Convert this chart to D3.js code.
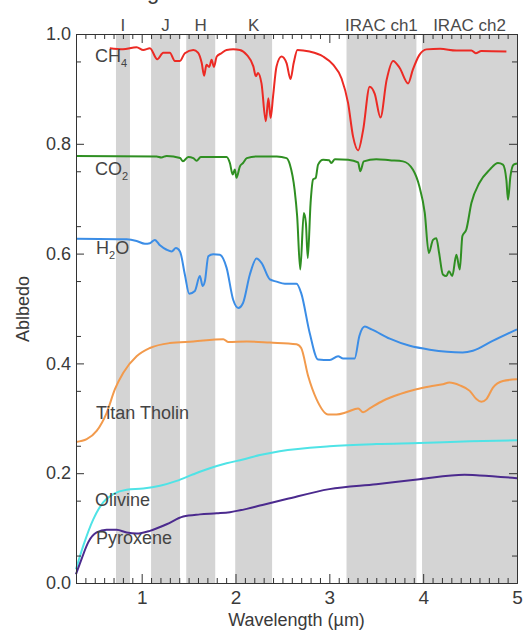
<!DOCTYPE html>
<html lang="en">
<head>
<meta charset="UTF-8">
<title>Albedo spectra</title>
<script src="https://d3js.org/d3.v7.min.js"></script>
<style>
  body { margin: 0; background: #fff; }
  text { font-family: "Liberation Sans", Arial, sans-serif; fill: #3a3a3a; }
  .axis path, .axis line { stroke: #333; }
  .curve { fill: none; stroke-width: 2; stroke-linejoin: round; }
</style>
</head>
<body>
<script>
// photometric bands (wavelength, um)
const bandNames = ['I', 'J', 'H', 'K', 'IRAC ch1', 'IRAC ch2'];
const bandFrom  = [0.726, 1.10, 1.475, 1.997, 3.183, 3.988];
const bandTo    = [0.875, 1.408, 1.784, 2.39, 3.928, 5.0];

const xTicks = [1, 2, 3, 4, 5];
const yTicks = [0.0, 0.2, 0.4, 0.6, 0.8, 1.0];

// spectra: [wavelength, albedo]
const ch4 = [[0.66,0.974],[0.80,0.972],[0.946,0.976],[1.017,0.971],[1.088,0.974],[1.166,0.954],[1.23,0.966],
  [1.30,0.966],[1.354,0.951],[1.408,0.951],[1.46,0.965],[1.55,0.971],[1.60,0.966],[1.64,0.947],[1.666,0.924],
  [1.69,0.944],[1.72,0.94],[1.745,0.953],[1.77,0.94],[1.80,0.959],[1.85,0.965],[1.905,0.971],[1.975,0.972],
  [2.046,0.971],[2.12,0.962],[2.19,0.941],[2.217,0.923],[2.24,0.929],[2.277,0.91],[2.323,0.841],[2.35,0.883],
  [2.374,0.847],[2.40,0.886],[2.437,0.941],[2.49,0.959],[2.544,0.947],[2.586,0.918],[2.62,0.947],[2.66,0.971],
  [2.79,0.968],[2.934,0.959],[3.04,0.944],[3.13,0.919],[3.20,0.874],[3.253,0.813],[3.307,0.788],[3.36,0.825],
  [3.43,0.904],[3.484,0.891],[3.545,0.848],[3.61,0.916],[3.68,0.951],[3.75,0.938],[3.84,0.910],[3.89,0.935],
  [3.96,0.962],[4.035,0.972],[4.18,0.973],[4.354,0.97],[4.514,0.97],[4.56,0.965],[4.62,0.969],[4.887,0.968]];

const co2 = [[0.3,0.778],[1.16,0.777],[1.21,0.775],[1.266,0.778],[1.41,0.774],[1.44,0.768],[1.496,0.776],
  [1.55,0.774],[1.585,0.769],[1.63,0.776],[1.905,0.776],[1.94,0.765],[1.97,0.744],[1.993,0.753],[2.01,0.738],
  [2.047,0.759],[2.08,0.765],[2.12,0.774],[2.224,0.777],[2.44,0.777],[2.544,0.774],[2.58,0.762],[2.63,0.716],
  [2.657,0.668],[2.69,0.571],[2.728,0.674],[2.75,0.656],[2.77,0.592],[2.80,0.692],[2.827,0.735],[2.855,0.738],
  [2.88,0.762],[2.934,0.771],[2.997,0.770],[3.02,0.765],[3.06,0.772],[3.2,0.771],[3.306,0.766],[3.33,0.750],
  [3.367,0.768],[3.50,0.772],[3.644,0.770],[3.785,0.768],[3.89,0.753],[3.96,0.722],[4.017,0.674],[4.06,0.601],
  [4.105,0.625],[4.14,0.628],[4.17,0.601],[4.21,0.562],[4.247,0.559],[4.275,0.568],[4.31,0.559],[4.354,0.598],
  [4.39,0.571],[4.418,0.632],[4.46,0.644],[4.514,0.692],[4.60,0.729],[4.71,0.753],[4.797,0.765],[4.85,0.762],
  [4.887,0.734],[4.904,0.698],[4.93,0.741],[4.964,0.762],[5.0,0.764]];

const h2o = [[0.3,0.627],[0.84,0.626],[0.946,0.623],[1.035,0.618],[1.088,0.619],[1.14,0.625],[1.195,0.615],
  [1.266,0.607],[1.32,0.604],[1.365,0.610],[1.408,0.604],[1.46,0.562],[1.507,0.527],[1.567,0.532],[1.62,0.559],
  [1.65,0.541],[1.674,0.550],[1.71,0.595],[1.762,0.599],[1.833,0.598],[1.905,0.574],[1.975,0.516],[2.03,0.501],
  [2.08,0.510],[2.153,0.562],[2.224,0.591],[2.277,0.583],[2.366,0.553],[2.437,0.549],[2.526,0.545],[2.65,0.545],
  [2.70,0.528],[2.79,0.456],[2.88,0.407],[3.005,0.406],[3.093,0.413],[3.147,0.409],[3.27,0.409],[3.32,0.450],
  [3.378,0.467],[3.45,0.462],[3.644,0.445],[3.857,0.432],[4.07,0.425],[4.42,0.420],[4.53,0.423],[4.74,0.441],
  [5.0,0.462]];

const tholin = [[0.3,0.257],[0.414,0.262],[0.52,0.277],[0.627,0.310],[0.715,0.353],[0.804,0.383],[0.946,0.413],
  [1.088,0.428],[1.30,0.437],[1.55,0.440],[1.87,0.444],[1.92,0.439],[2.12,0.440],[2.366,0.438],[2.65,0.435],
  [2.70,0.428],[2.774,0.377],[2.863,0.335],[2.987,0.307],[3.076,0.307],[3.183,0.311],[3.307,0.318],[3.36,0.311],
  [3.43,0.318],[3.572,0.332],[3.75,0.344],[3.928,0.353],[4.07,0.358],[4.21,0.362],[4.28,0.365],[4.39,0.360],
  [4.496,0.350],[4.567,0.335],[4.62,0.330],[4.674,0.335],[4.744,0.356],[4.85,0.368],[5.0,0.371]];

const olivine = [[0.3,0.025],[0.378,0.068],[0.484,0.116],[0.59,0.147],[0.697,0.162],[0.84,0.170],[1.017,0.172],
  [1.195,0.177],[1.372,0.186],[1.55,0.198],[1.727,0.209],[1.905,0.218],[2.08,0.225],[2.26,0.233],[2.47,0.240],
  [3.0,0.249],[3.5,0.253],[3.96,0.255],[4.5,0.258],[5.0,0.260]];

const pyroxene = [[0.3,0.016],[0.36,0.044],[0.43,0.074],[0.52,0.092],[0.627,0.097],[0.733,0.097],[0.84,0.092],
  [0.946,0.090],[1.088,0.095],[1.266,0.107],[1.443,0.121],[1.62,0.125],[1.80,0.127],[1.94,0.129],[2.12,0.135],
  [2.26,0.141],[2.544,0.153],[3.0,0.171],[3.5,0.180],[3.96,0.189],[4.44,0.197],[4.6,0.196],[5.0,0.191]];

const series = [
  { data: ch4, color: '#ec2a24' },
  { data: co2, color: '#2f8f22' },
  { data: h2o, color: '#3b8de6' },
  { data: tholin, color: '#f29a4c' },
  { data: olivine, color: '#4fe3e6' },
  { data: pyroxene, color: '#4b2a8e' }
];

const width = 523, height = 630;
const plotLeft = 76, plotRight = 517, plotTop = 34, plotBottom = 583;

const svg = d3.select('body').append('svg')
  .attr('width', width)
  .attr('height', height);

const x = d3.scaleLinear().domain([0.3, 5]).range([plotLeft, plotRight]);
const y = d3.scaleLinear().domain([0, 1]).range([plotBottom, plotTop]);

// bands
svg.selectAll('.band')
  .data(bandNames)
  .enter().append('rect')
  .attr('x', (d, i) => x(bandFrom[i]))
  .attr('width', (d, i) => x(bandTo[i]) - x(bandFrom[i]))
  .attr('y', plotTop)
  .attr('height', plotBottom - plotTop)
  .attr('fill', '#d4d4d4');

svg.selectAll('.bandLabel')
  .data(bandNames)
  .enter().append('text')
  .attr('x', (d, i) => x((bandFrom[i] + bandTo[i]) / 2))
  .attr('y', 31)
  .attr('text-anchor', 'middle')
  .style('font-size', '17px')
  .style('fill', '#4a4a4a')
  .text(d => d);

// curves
const line = d3.line()
  .x(d => x(d[0]))
  .y(d => y(d[1]))
  .curve(d3.curveMonotoneX);

svg.selectAll('.curve')
  .data(series)
  .enter().append('path')
  .attr('class', 'curve')
  .attr('stroke', d => d.color)
  .attr('d', d => line(d.data));

// axes: major and minor ticks, all pointing inward
const minorX = d3.range(4, 50).map(d => d / 10).filter(d => d % 1 !== 0);
const minorY = d3.range(1, 20, 2).map(d => d / 20);

function addAxis(axis, tr, cls) {
  return svg.append('g').attr('class', 'axis ' + cls).attr('transform', tr).call(axis);
}

addAxis(d3.axisBottom(x).tickValues(xTicks).tickSizeInner(-9).tickSizeOuter(0).tickPadding(8).tickFormat(d3.format('d')),
  `translate(0,${plotBottom})`, 'xb');
addAxis(d3.axisBottom(x).tickValues(minorX).tickSizeInner(-5).tickSizeOuter(0).tickFormat(''),
  `translate(0,${plotBottom})`, 'xbm');
addAxis(d3.axisTop(x).tickValues(xTicks).tickSizeInner(-9).tickSizeOuter(0).tickFormat(''),
  `translate(0,${plotTop})`, 'xt');
addAxis(d3.axisTop(x).tickValues(minorX).tickSizeInner(-5).tickSizeOuter(0).tickFormat(''),
  `translate(0,${plotTop})`, 'xtm');
addAxis(d3.axisLeft(y).tickValues(yTicks).tickSizeInner(-8).tickSizeOuter(0).tickPadding(5).tickFormat(d3.format('.1f')),
  `translate(${plotLeft},0)`, 'yl');
addAxis(d3.axisLeft(y).tickValues(minorY).tickSizeInner(-5).tickSizeOuter(0).tickFormat(''),
  `translate(${plotLeft},0)`, 'ylm');
addAxis(d3.axisRight(y).tickValues(yTicks).tickSizeInner(-8).tickSizeOuter(0).tickFormat(''),
  `translate(${plotRight},0)`, 'yr');
addAxis(d3.axisRight(y).tickValues(minorY).tickSizeInner(-5).tickSizeOuter(0).tickFormat(''),
  `translate(${plotRight},0)`, 'yrm');

svg.selectAll('.axis text').style('font-size', '18px').style('fill', '#3a3a3a');
svg.selectAll('.xb text').style('font-size', '19px');

// axis titles
svg.append('text')
  .attr('x', (plotLeft + plotRight) / 2)
  .attr('y', 626)
  .attr('text-anchor', 'middle')
  .style('font-size', '18px')
  .text('Wavelength (\u00b5m)');

svg.append('text')
  .attr('transform', 'translate(29,309) rotate(-90)')
  .attr('text-anchor', 'middle')
  .style('font-size', '18px')
  .text('Ablbedo');

// title fragment, clipped at the top edge as in the source image
svg.append('text')
  .attr('x', 147)
  .attr('y', -1)
  .style('font-size', '22px')
  .text('g');

// curve labels
const labels = [
  { main: 'CH', sub: '4', tail: '', x: 95, y: 62 },
  { main: 'CO', sub: '2', tail: '', x: 95, y: 175 },
  { main: 'H', sub: '2', tail: 'O', x: 96, y: 254 },
  { main: 'Titan Tholin', sub: '', tail: '', x: 96, y: 419 },
  { main: 'Olivine', sub: '', tail: '', x: 95, y: 506 },
  { main: 'Pyroxene', sub: '', tail: '', x: 96, y: 544 }
];

labels.forEach(l => {
  const t = svg.append('text')
    .attr('x', l.x)
    .attr('y', l.y)
    .style('font-size', '18px')
    .style('fill', '#444');
  t.append('tspan').text(l.main);
  if (l.sub) t.append('tspan').attr('dy', 5).style('font-size', '11px').text(l.sub);
  if (l.tail) t.append('tspan').attr('dy', -5).text(l.tail);
});
</script>
</body>
</html>
